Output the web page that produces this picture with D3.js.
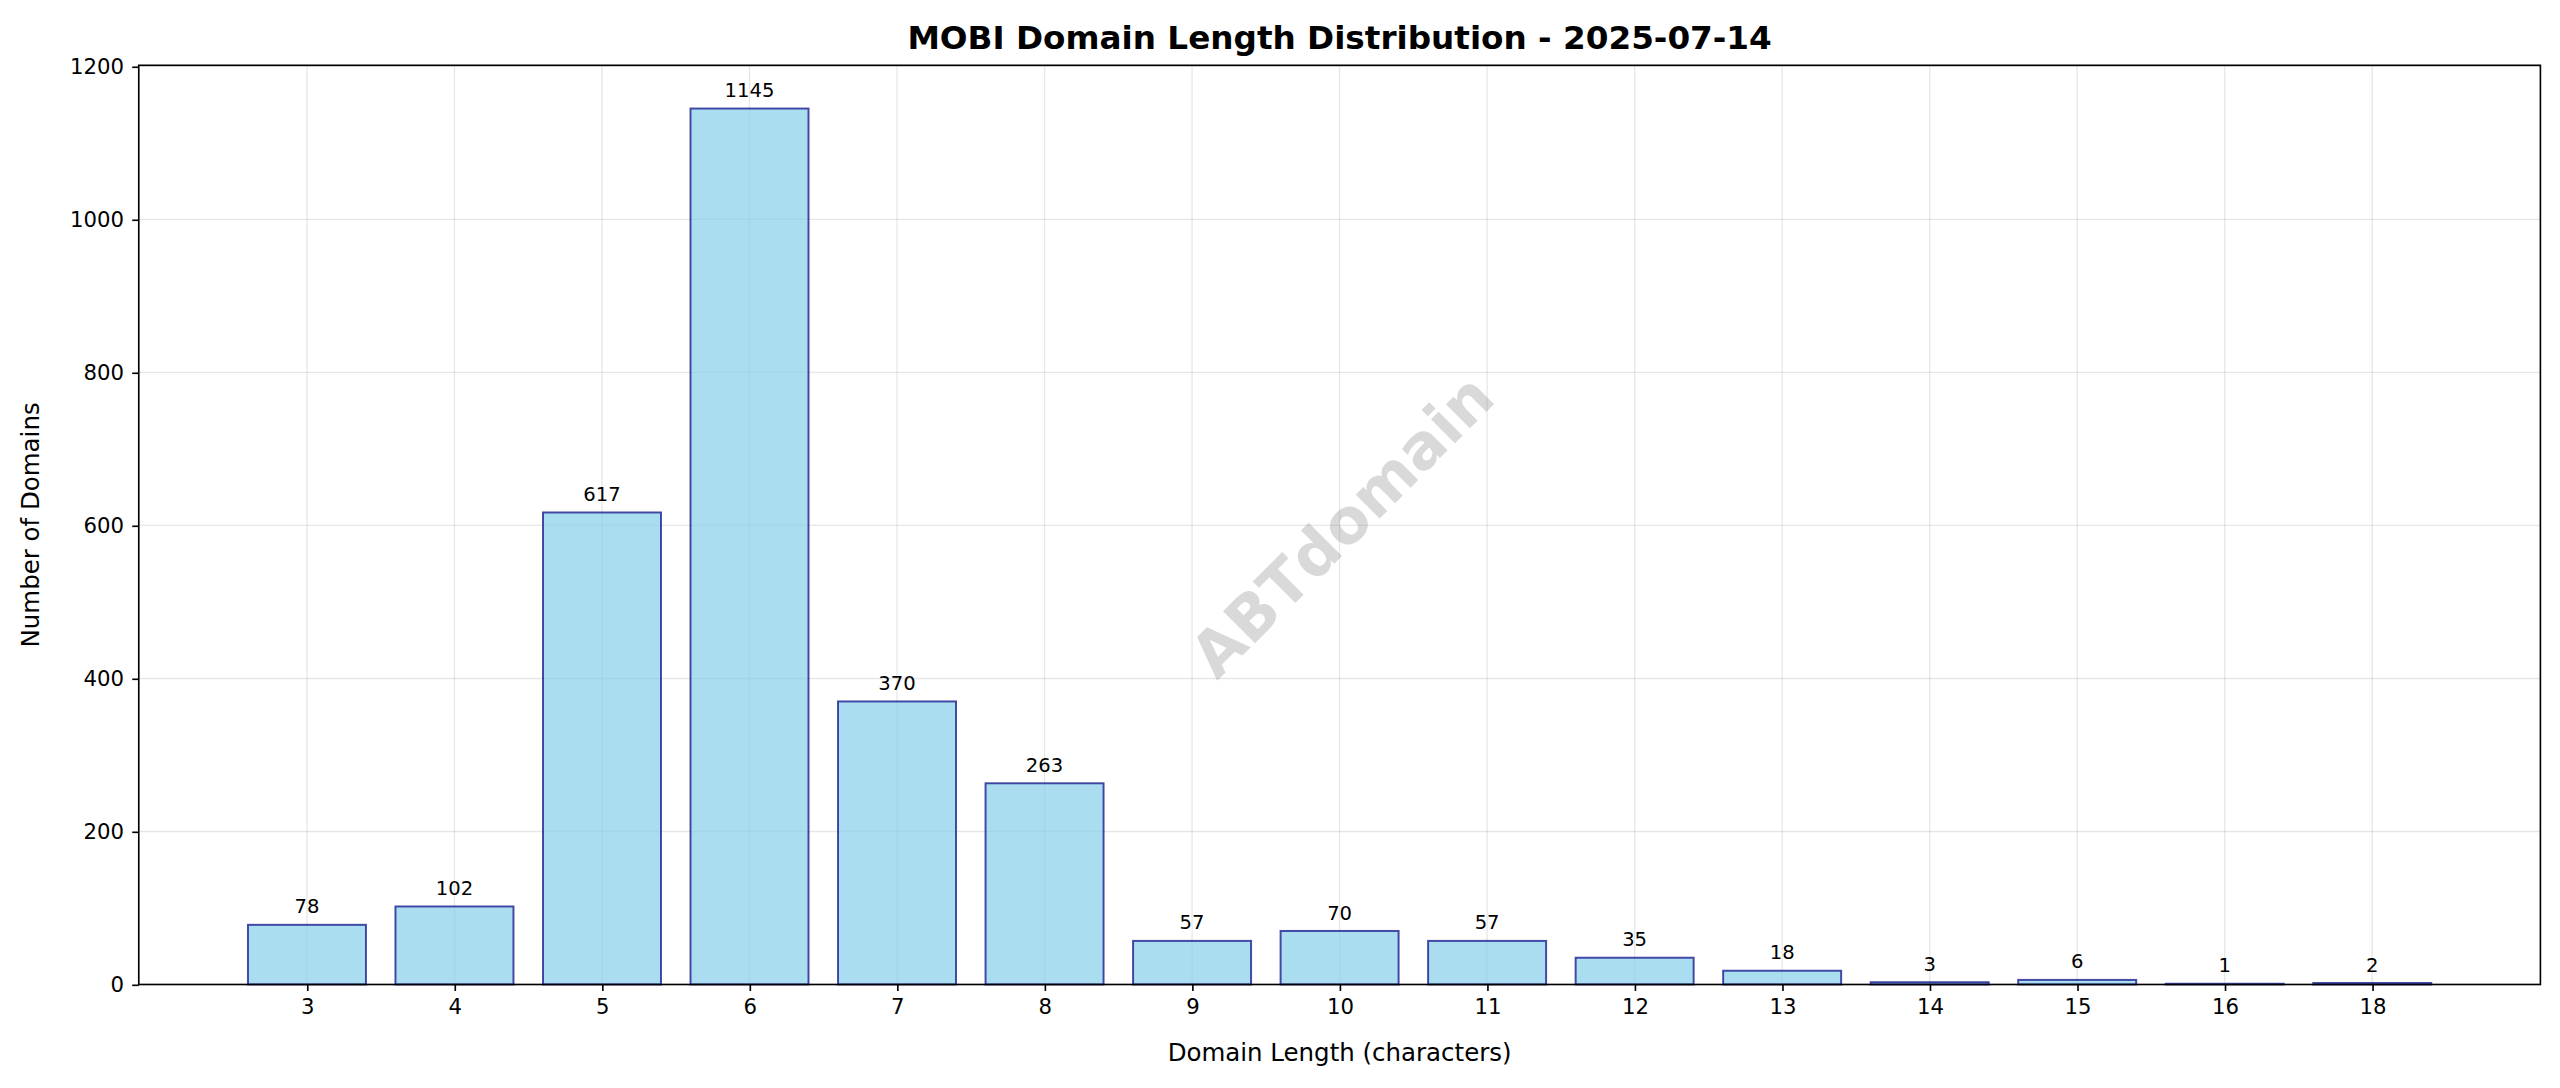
<!DOCTYPE html>
<html><head><meta charset="utf-8">
<script src="https://cdn.jsdelivr.net/npm/d3@7"></script>
<style>body{margin:0;background:#fff}</style></head>
<body><svg id="c" width="2560" height="1088" viewBox="0 0 1568 666.4"></svg>
<script>
const categories = ["3","4","5","6","7","8","9","10","11","12","13","14","15","16","18"];
const counts = [78,102,617,1145,370,263,57,70,57,35,18,3,6,1,2];
const yTicks = [0,200,400,600,800,1000,1200];

const svg = d3.select("#c");
const L=85,R=1556,T=40,B=603;
const x = d3.scaleLinear().domain([-1.14,categories.length-1+1.14]).range([L,R]);
const y = d3.scaleLinear().domain([0,1201.5]).range([B,T]);
const F = "DejaVu Sans, sans-serif";
const g = svg.append("g");

g.selectAll(".gx").data(categories).enter().append("line")
 .attr("x1",(d,i)=>x(i)).attr("x2",(d,i)=>x(i)).attr("y1",T).attr("y2",B)
 .attr("stroke","#b0b0b0").attr("stroke-opacity",0.3).attr("stroke-width",0.8);
g.selectAll(".gy").data(yTicks).enter().append("line")
 .attr("x1",L).attr("x2",R).attr("y1",d=>y(d)).attr("y2",d=>y(d))
 .attr("stroke","#b0b0b0").attr("stroke-opacity",0.3).attr("stroke-width",0.8);

svg.append("text").attr("transform","translate(822,322) rotate(-45)")
 .attr("text-anchor","middle").attr("dominant-baseline","central")
 .attr("font-family",F).attr("font-weight","bold").attr("font-size",38)
 .attr("fill","#808080").attr("fill-opacity",0.3).text("ABTdomain");

const bw = 0.8*(x(1)-x(0));
g.selectAll(".bar").data(counts).enter().append("rect")
 .attr("x",(d,i)=>x(i)-bw/2).attr("width",bw)
 .attr("y",d=>y(d)).attr("height",d=>B-y(d))
 .attr("fill","#87CEEB").attr("fill-opacity",0.7)
 .attr("stroke","#000080").attr("stroke-opacity",0.7).attr("stroke-width",1.2);
g.selectAll(".vl").data(counts).enter().append("text")
 .attr("x",(d,i)=>x(i)).attr("y",d=>y(d)-7).attr("text-anchor","middle")
 .attr("font-family",F).attr("font-size",12).text(d=>d);

const xa = svg.append("g").attr("transform",`translate(0,${B})`)
 .call(d3.axisBottom(x).tickValues(d3.range(categories.length)).tickFormat(i=>categories[i]).tickSize(4).tickPadding(5));
const ya = svg.append("g").attr("transform",`translate(${L},0)`)
 .call(d3.axisLeft(y).tickValues(yTicks).tickFormat(d3.format("d")).tickSize(4).tickPadding(5));
[xa,ya].forEach(a=>{a.select(".domain").remove();a.selectAll("text").attr("font-family",F).attr("font-size",13).attr("fill","#000");});
svg.append("rect").attr("x",L).attr("y",T).attr("width",R-L).attr("height",B-T)
 .attr("fill","none").attr("stroke","#000").attr("stroke-width",1);

svg.append("text").attr("x",(L+R)/2).attr("y",30).attr("text-anchor","middle")
 .attr("font-family",F).attr("font-weight","bold").attr("font-size",20).text("MOBI Domain Length Distribution - 2025-07-14");
svg.append("text").attr("x",(L+R)/2).attr("y",650).attr("text-anchor","middle")
 .attr("font-family",F).attr("font-size",15).text("Domain Length (characters)");
svg.append("text").attr("transform",`translate(24,${(T+B)/2}) rotate(-90)`).attr("text-anchor","middle")
 .attr("font-family",F).attr("font-size",15).text("Number of Domains");
</script></body></html>
